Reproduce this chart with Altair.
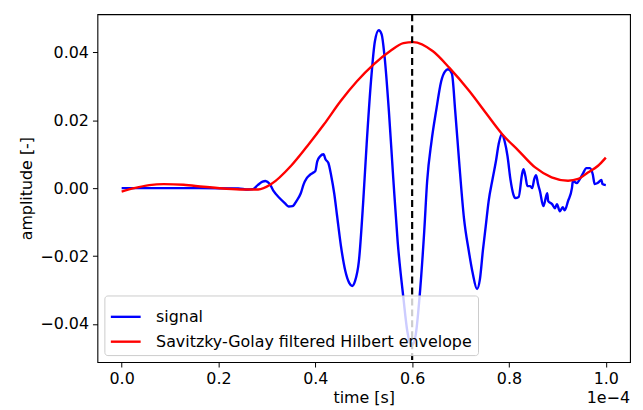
import altair as alt
import pandas as pd

# signal (time in units of 1e-4 s, amplitude)
sig_t = [0.0, 0.159, 0.241, 0.261, 0.271, 0.281, 0.291, 0.297, 0.306, 0.314, 0.326, 0.337,
         0.345, 0.353, 0.361, 0.370, 0.376, 0.382, 0.388, 0.394, 0.400, 0.404, 0.410, 0.417,
         0.421, 0.427, 0.433, 0.439, 0.445, 0.453, 0.462, 0.470, 0.476, 0.482, 0.490, 0.499,
         0.506, 0.515, 0.523, 0.531, 0.537, 0.543, 0.552, 0.561, 0.570, 0.582, 0.590, 0.599,
         0.607, 0.615, 0.625, 0.631, 0.640, 0.650, 0.660, 0.668, 0.674, 0.682, 0.689, 0.697,
         0.707, 0.717, 0.725, 0.734, 0.740, 0.746, 0.752, 0.758, 0.766, 0.773, 0.779, 0.785,
         0.791, 0.797, 0.803, 0.809, 0.813, 0.820, 0.827, 0.830, 0.834, 0.838, 0.844, 0.848,
         0.852, 0.856, 0.860, 0.864, 0.871, 0.879, 0.881, 0.889, 0.895, 0.899, 0.905, 0.911,
         0.915, 0.922, 0.930, 0.932, 0.940, 0.946, 0.952, 0.960, 0.967, 0.973, 0.977, 0.983,
         0.991, 0.993, 1.0]
sig_a = [0.0, 0.0, -0.0001, -0.0004, -0.0003, 0.0009, 0.0019, 0.0021, 0.0012, -0.0009, -0.0029, -0.0044,
         -0.0054, -0.0053, -0.0038, -0.0015, 0.0012, 0.0029, 0.0038, 0.0044, 0.0050, 0.0079, 0.0094, 0.0100,
         0.0085, 0.0074, 0.0035, -0.0015, -0.0082, -0.0171, -0.0244, -0.0279, -0.0288, -0.0274, -0.0215, -0.0038,
         0.0129, 0.0315, 0.0432, 0.0465, 0.0453, 0.0388, 0.0226, 0.0029, -0.0156, -0.0324, -0.0421, -0.0465,
         -0.0435, -0.0326, -0.0126, 0.0021, 0.0138, 0.0232, 0.0315, 0.0344, 0.0350, 0.0338, 0.0226, 0.0079,
         -0.0088, -0.0185, -0.0250, -0.0297, -0.0268, -0.0185, -0.0112, -0.0038, 0.0026, 0.0079, 0.0132, 0.0159,
         0.0138, 0.0094, 0.0026, -0.0018, -0.0029, -0.0026, 0.0041, 0.0056, 0.0035, 0.0006, 0.0006, 0.0,
         0.0026, 0.0038, 0.0012, -0.0009, -0.0053, -0.0015, -0.0038, -0.0047, -0.0059, -0.0047, -0.0068, -0.0056,
         -0.0065, -0.0038, 0.0, 0.0021, 0.0015, 0.0026, 0.0041, 0.0059, 0.0059, 0.0041, 0.0012, 0.0015,
         0.0024, 0.0012, 0.0009]

# Savitzky-Golay filtered Hilbert envelope
env_t = [0.0, 0.026, 0.057, 0.087, 0.128, 0.169, 0.210, 0.251, 0.282, 0.309, 0.350, 0.384,
         0.418, 0.452, 0.486, 0.520, 0.554, 0.582, 0.602, 0.643, 0.677, 0.718, 0.752, 0.786,
         0.820, 0.854, 0.888, 0.922, 0.943, 0.963, 0.984, 1.0]
env_a = [-0.0010, 0.0, 0.0009, 0.0012, 0.0010, 0.0004, -0.0001, -0.0004, -0.0004, 0.0012, 0.0066, 0.0125,
         0.0188, 0.0256, 0.0315, 0.0364, 0.0403, 0.0427, 0.0430, 0.0403, 0.0354, 0.0286, 0.0222, 0.0159,
         0.0110, 0.0061, 0.0032, 0.0022, 0.0027, 0.0046, 0.0066, 0.0090]

peak_t = [0.6]

x_ticks = [0.0, 0.2, 0.4, 0.6, 0.8, 1.0]
y_ticks = [-0.04, -0.02, 0.0, 0.02, 0.04]

names = ["signal", "Savitzky-Golay filtered Hilbert envelope"]

df = pd.concat([
    pd.DataFrame({"t": sig_t, "a": sig_a, "series": names[0], "o": range(len(sig_t))}),
    pd.DataFrame({"t": env_t, "a": env_a, "series": names[1], "o": range(len(env_t))}),
])

W, H = 536, 350
FONT = "DejaVu Sans"
FS = 16

xscale = alt.Scale(domain=[-0.05, 1.05], nice=False, zero=False)
yscale = alt.Scale(domain=[-0.0512, 0.0512], nice=False, zero=False)

lines = alt.Chart(df).mark_line(strokeWidth=2.4, interpolate="monotone").encode(
    x=alt.X("t:Q", scale=xscale,
            axis=alt.Axis(values=x_ticks, format=".1f", title="time [s]", grid=False,
                          tickSize=5, tickColor="black", domain=False, labelPadding=4,
                          labelFontSize=FS, titleFontSize=FS, labelFont=FONT, titleFont=FONT,
                          labelColor="black", titleColor="black", titleFontWeight="normal",
                          titlePadding=3)),
    y=alt.Y("a:Q", scale=yscale,
            axis=alt.Axis(values=y_ticks, format=".2f", title="amplitude [-]", grid=False,
                          labelExpr="replace(datum.label, '-', '\u2212')",
                          tickSize=5, tickColor="black", domain=False, labelPadding=4,
                          labelFontSize=FS, titleFontSize=FS, labelFont=FONT, titleFont=FONT,
                          labelColor="black", titleColor="black", titleFontWeight="normal",
                          titlePadding=5)),
    color=alt.Color("series:N", scale=alt.Scale(domain=names, range=["#0000ff", "#ff0000"]),
                    legend=alt.Legend(title=None, orient="bottom-left", offset=7,
                                      symbolType="stroke", symbolSize=900, symbolStrokeWidth=2.4,
                                      labelFontSize=FS, labelFont=FONT, labelColor="black",
                                      fillColor="rgba(255,255,255,0.8)", strokeColor="#cccccc",
                                      cornerRadius=3, padding=5, rowPadding=0, labelOffset=14,
                                      labelLimit=600)),
    order="o:Q",
)

vline = alt.Chart(pd.DataFrame({"t": peak_t})).mark_rule(
    color="black", strokeWidth=2.2, strokeDash=[7, 4]
).encode(x=alt.X("t:Q", scale=xscale))

offset_text = alt.Chart(pd.DataFrame({"s": ["1e\u22124"]})).mark_text(
    align="right", baseline="middle", fontSize=FS, font=FONT, color="black"
).encode(text="s:N", x=alt.value(W), y=alt.value(H + 36))

chart = alt.layer(lines, vline, offset_text).properties(
    width=W, height=H,
    autosize=alt.AutoSizeParams(type="none"),
    padding={"left": 90, "top": 5, "right": 5, "bottom": 55},
).configure_view(stroke="black", strokeWidth=1.1)

chart.save("out.html", embed_options={"renderer": "svg", "actions": False})
